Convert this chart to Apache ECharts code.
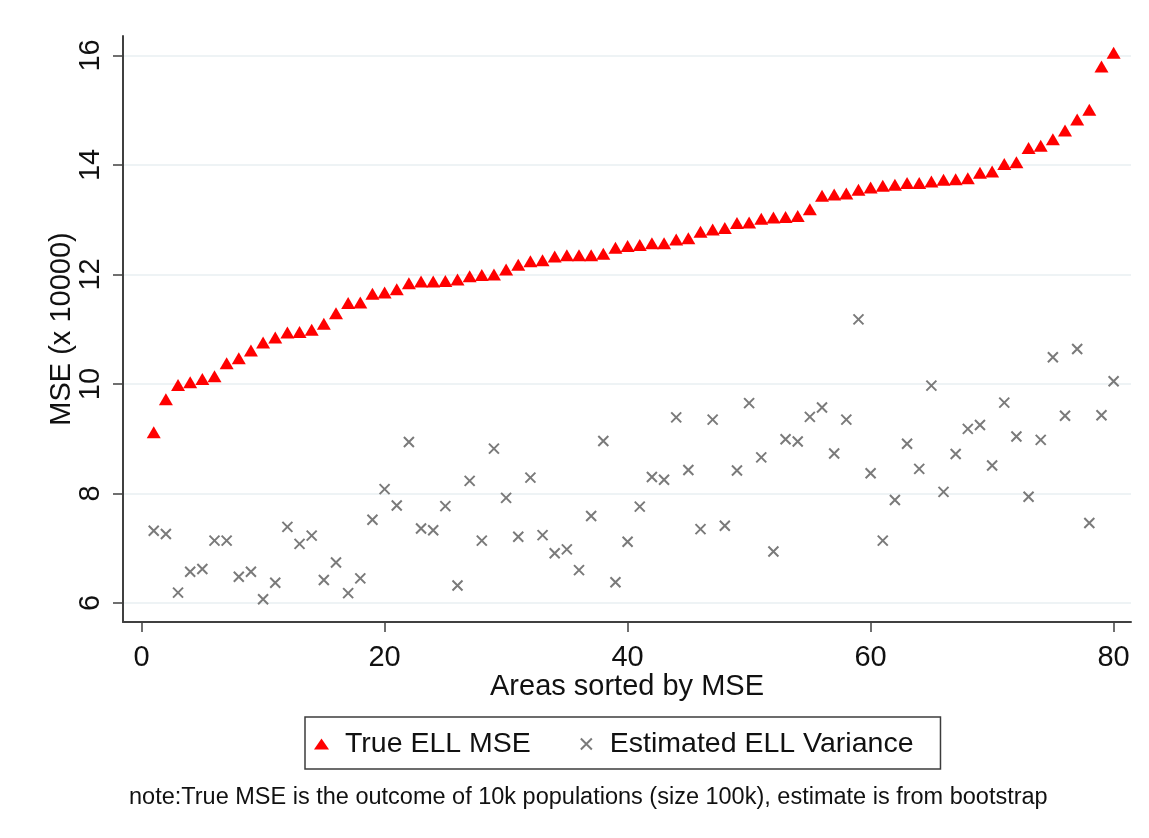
<!DOCTYPE html>
<html>
<head>
<meta charset="utf-8">
<script src="https://cdn.jsdelivr.net/npm/echarts@6/dist/echarts.min.js"></script>
<style>
html,body{margin:0;padding:0;background:#fff;}
#chart{width:1149px;height:838px;}
</style>
</head>
<body>
<div id="chart"></div>
<script>
var areas = [1,2,3,4,5,6,7,8,9,10,11,12,13,14,15,16,17,18,19,20,
  21,22,23,24,25,26,27,28,29,30,31,32,33,34,35,36,37,38,39,40,
  41,42,43,44,45,46,47,48,49,50,51,52,53,54,55,56,57,58,59,60,
  61,62,63,64,65,66,67,68,69,70,71,72,73,74,75,76,77,78,79,80];

var trueMSE = [9.12,9.72,9.98,10.03,10.09,10.14,10.38,10.47,10.61,10.76,
  10.85,10.94,10.95,10.99,11.10,11.29,11.48,11.49,11.65,11.67,
  11.73,11.84,11.87,11.87,11.88,11.91,11.97,11.99,12.00,12.09,
  12.18,12.24,12.26,12.33,12.35,12.35,12.35,12.38,12.49,12.52,
  12.54,12.57,12.57,12.64,12.66,12.78,12.82,12.85,12.94,12.95,
  13.02,13.04,13.05,13.07,13.19,13.44,13.46,13.48,13.55,13.59,
  13.62,13.64,13.67,13.67,13.70,13.73,13.74,13.76,13.86,13.88,
  14.02,14.05,14.31,14.35,14.47,14.63,14.83,15.01,15.80,16.05];

var estVar = [7.32,7.26,6.19,6.57,6.62,7.14,7.14,6.48,6.57,6.07,
  6.37,7.39,7.08,7.23,6.42,6.74,6.18,6.45,7.52,8.08,
  7.78,8.94,7.36,7.33,7.77,6.32,8.23,7.14,8.82,7.92,
  7.21,8.29,7.24,6.91,6.98,6.60,7.59,8.96,6.38,7.12,
  7.76,8.30,8.25,9.39,8.43,7.35,9.35,7.41,8.42,9.65,
  8.66,6.94,8.99,8.95,9.40,9.57,8.73,9.35,11.18,8.37,
  7.14,7.88,8.91,8.45,9.97,8.03,8.72,9.18,9.25,8.51,
  9.66,9.04,7.94,8.98,10.49,9.42,10.64,7.46,9.43,10.05];

var xTicks = [0,20,40,60,80];
var yTicks = [6,8,10,12,14,16];

var seriesNames = ['True ELL MSE','Estimated ELL Variance'];
var xTitle = 'Areas sorted by MSE';
var yTitle = 'MSE (x 10000)';
var noteText = 'note:True MSE is the outcome of 10k populations (size 100k), estimate is from bootstrap';

var FONT = '"Liberation Sans", Arial, sans-serif';
var XPATH = 'path://M0,0L10,10M10,0L0,10';

var chart = echarts.init(document.getElementById('chart'), null, {renderer:'canvas'});
chart.setOption({
  animation: false,
  backgroundColor: '#ffffff',
  grid: {left:123, right:18, top:36, bottom:216},
  xAxis: {
    type:'value', min:-1.53, max:81.43,
    axisLine:{show:true, onZero:false, lineStyle:{color:'#404040', width:2}},
    axisTick:{show:true, length:10, customValues:xTicks, lineStyle:{color:'#404040', width:1.5}},
    axisLabel:{show:true, customValues:xTicks, fontSize:29, margin:21, color:'#111', fontFamily:FONT},
    splitLine:{show:false},
    name:xTitle, nameLocation:'middle', nameGap:50, nameMoveOverlap:false,
    nameTextStyle:{fontSize:29, color:'#111', fontFamily:FONT}
  },
  yAxis: {
    type:'value', min:5.653, max:16.356,
    axisLine:{show:true, onZero:false, lineStyle:{color:'#404040', width:2}},
    axisTick:{show:true, length:10, customValues:yTicks, lineStyle:{color:'#404040', width:1.5}},
    axisLabel:{show:true, customValues:yTicks, rotate:90, fontSize:29, margin:18, color:'#111', fontFamily:FONT},
    splitLine:{show:true, lineStyle:{color:'#e8eff2', width:1.5}},
    name:yTitle, nameLocation:'middle', nameGap:47, nameMoveOverlap:false,
    nameTextStyle:{fontSize:29, color:'#111', fontFamily:FONT}
  },
  legend: {
    left:305, top:717, orient:'horizontal',
    padding:[10,27,8,9], itemGap:49, itemWidth:15, itemHeight:11,
    borderColor:'#3c3c3c', borderWidth:1.5, backgroundColor:'#ffffff',
    selectedMode:false,
    textStyle:{fontSize:28.5, color:'#111', fontFamily:FONT, padding:[4,0,0,11], lineHeight:30},
    data:[{name:seriesNames[0], icon:'triangle'}, {name:seriesNames[1], icon:XPATH}]
  },
  graphic: [{
    type:'text', left:129, top:786,
    style:{text:noteText, fontSize:23.5, fill:'#111', fontFamily:FONT}
  }],
  series: [
    {
      name:seriesNames[1], type:'scatter', symbol:XPATH, symbolSize:10,
      itemStyle:{color:'rgba(0,0,0,0)', borderColor:'#7a7a7a', borderWidth:2, opacity:1},
      data: areas.map(function(a,i){return [a, estVar[i]];}),
      z:2
    },
    {
      name:seriesNames[0], type:'scatter', symbol:'triangle', symbolSize:[14,12],
      itemStyle:{color:'#ff0000', opacity:1},
      data: areas.map(function(a,i){return [a, trueMSE[i]];}),
      z:3
    }
  ]
});
</script>
</body>
</html>
